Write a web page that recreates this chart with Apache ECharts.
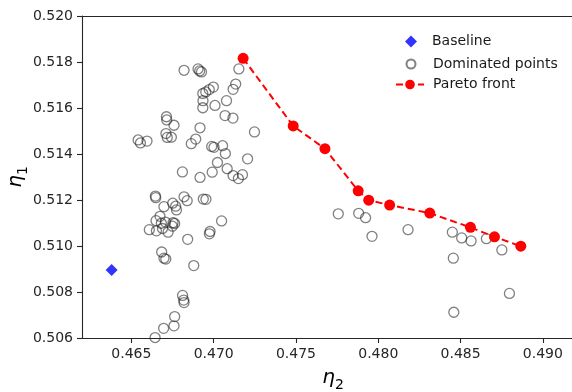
<!DOCTYPE html>
<html>
<head>
<meta charset="utf-8">
<script src="https://cdn.jsdelivr.net/npm/echarts@6/dist/echarts.min.js"></script>
<style>
html,body{margin:0;padding:0;background:#fff;overflow:hidden;}
#chart{width:600px;height:392px;}
</style>
</head>
<body>
<div id="chart"></div>
<script>
// ---- data ----
const baselineX = [0.46380];
const baselineY = [0.50896];

const paretoX = [0.47179, 0.47483, 0.47676, 0.47878, 0.47942, 0.48069, 0.48313, 0.48560, 0.48706, 0.48866];
const paretoY = [0.51816, 0.51522, 0.51423, 0.51240, 0.51199, 0.51178, 0.51143, 0.51081, 0.51040, 0.50999];

const dominatedX = [
  0.46820, 0.46905, 0.46915, 0.46926, 0.47153, 0.47134, 0.47118, 0.46998, 0.46973, 0.46952,
  0.46934, 0.46935, 0.46934, 0.47008, 0.47078, 0.47069, 0.47117, 0.47248, 0.46713, 0.46715,
  0.46759, 0.46917, 0.46710, 0.46718, 0.46743, 0.46541, 0.46555, 0.46595, 0.46891, 0.46864,
  0.46988, 0.47002, 0.47054, 0.47071, 0.47206, 0.46810, 0.46917, 0.46991, 0.47023, 0.47082,
  0.47118, 0.47150, 0.47175, 0.46646, 0.46648, 0.46698, 0.46751, 0.46769, 0.46774, 0.46820,
  0.46839, 0.46937, 0.46953, 0.46674, 0.46650, 0.46707, 0.46682, 0.46753, 0.46763, 0.46749,
  0.46609, 0.46652, 0.46689, 0.46723, 0.47048, 0.46978, 0.46974, 0.46842, 0.46684, 0.46698,
  0.46709, 0.46879, 0.46811, 0.46818, 0.46820, 0.46763, 0.46759, 0.46696, 0.46644,
  0.47757, 0.47881, 0.47923, 0.47962, 0.48181, 0.48450, 0.48507, 0.48564, 0.48657, 0.48751,
  0.48456, 0.48797, 0.48459
];
const dominatedY = [
  0.51764, 0.51770, 0.51761, 0.51757, 0.51770, 0.51704, 0.51681, 0.51691, 0.51680, 0.51670,
  0.51663, 0.51632, 0.51601, 0.51611, 0.51632, 0.51567, 0.51556, 0.51496, 0.51562, 0.51548,
  0.51525, 0.51514, 0.51489, 0.51472, 0.51473, 0.51461, 0.51448, 0.51456, 0.51465, 0.51445,
  0.51433, 0.51429, 0.51436, 0.51402, 0.51379, 0.51322, 0.51298, 0.51321, 0.51363, 0.51336,
  0.51306, 0.51293, 0.51310, 0.51217, 0.51210, 0.51171, 0.51186, 0.51173, 0.51157, 0.51214,
  0.51197, 0.51204, 0.51203, 0.51129, 0.51110, 0.51104, 0.51099, 0.51101, 0.51098, 0.51086,
  0.51071, 0.51066, 0.51076, 0.51060, 0.51109, 0.51063, 0.51053, 0.51029, 0.50974, 0.50947,
  0.50943, 0.50915, 0.50785, 0.50765, 0.50754, 0.50693, 0.50653, 0.50642, 0.50602,
  0.51140, 0.51142, 0.51123, 0.51042, 0.51071, 0.51060, 0.51035, 0.51022, 0.51032, 0.50983,
  0.50947, 0.50794, 0.50712
];

const xTicks = [0.465, 0.470, 0.475, 0.480, 0.485, 0.490];
const yTicks = [0.506, 0.508, 0.510, 0.512, 0.514, 0.516, 0.518, 0.520];

const zip = (a, b) => a.map((v, i) => [v, b[i]]);

const chart = echarts.init(document.getElementById('chart'), null, {renderer: 'canvas'});
const font = 'DejaVu Sans';
const axisColor = '#262626';
const legendText = {fontFamily: font, fontSize: 14, color: '#1a1a1a', lineHeight: 14};
const nameRich = {
  a: {fontFamily: font, fontStyle: 'italic', fontSize: 20, color: '#000', verticalAlign: 'bottom', lineHeight: 22},
  s: {fontFamily: font, fontSize: 14, color: '#000', verticalAlign: 'bottom', lineHeight: 16, padding: [0, 0, -4, 0]}
};

chart.setOption({
  animation: false,
  backgroundColor: '#ffffff',
  grid: {
    left: 82, top: 16, bottom: 54, right: 16,
    outerBoundsMode: 'none',
    containLabel: false
  },
  graphic: [{
    type: 'rect', silent: true, z: 100,
    shape: {x: 562, y: 17.2, width: 40, height: 320},
    style: {fill: '#ffffff'}
  }],
  legend: [
    {
      orient: 'vertical', left: 400, top: 29.5,
      itemWidth: 12, itemHeight: 12,
      textStyle: Object.assign({padding: [0, 0, 0, 10]}, legendText),
      data: [{name: 'Baseline', icon: 'diamond'}]
    },
    {
      orient: 'vertical', left: 400.5, top: 52,
      itemWidth: 9, itemHeight: 9,
      textStyle: Object.assign({padding: [0, 0, 0, 12.5]}, legendText),
      data: [{name: 'Dominated points', icon: 'circle'}]
    },
    {
      orient: 'vertical', left: 390, top: 72.5,
      itemWidth: 28, itemHeight: 12,
      textStyle: Object.assign({padding: [0, 0, 0, 4]}, legendText),
      data: ['Pareto front']
    }
  ],
  xAxis: [
    {
      type: 'value',
      min: 0.462, max: 0.4925,
      splitLine: {show: false},
      axisLine: {show: true, onZero: false, lineStyle: {color: axisColor, width: 1.1}},
      axisTick: {show: true, length: 5, lineStyle: {color: axisColor, width: 1.1}, customValues: xTicks},
      axisLabel: {
        fontFamily: font, fontSize: 14, color: axisColor, margin: 9,
        customValues: xTicks,
        formatter: v => v.toFixed(3)
      },
      name: '{a|η}{s|2}',
      nameLocation: 'middle',
      nameMoveOverlap: false,
      nameGap: 28,
      nameTextStyle: {rich: nameRich}
    },
    {
      type: 'value',
      position: 'top',
      min: 0.462, max: 0.4925,
      splitLine: {show: false},
      axisLine: {show: true, onZero: false, lineStyle: {color: axisColor, width: 1.1}},
      axisTick: {show: false},
      axisLabel: {show: false}
    }
  ],
  yAxis: {
    type: 'value',
    min: 0.506, max: 0.520,
    splitLine: {show: false},
    axisLine: {show: true, onZero: false, lineStyle: {color: axisColor, width: 1.1}},
    axisTick: {show: true, length: 5, lineStyle: {color: axisColor, width: 1.1}, customValues: yTicks},
    axisLabel: {
      fontFamily: font, fontSize: 14, color: axisColor, margin: 9,
      customValues: yTicks,
      formatter: v => v.toFixed(3)
    },
    name: '{a|η}{s|1}',
    nameLocation: 'middle',
    nameMoveOverlap: false,
    nameGap: 56,
    nameTextStyle: {rich: nameRich}
  },
  series: [
    {
      name: 'Baseline',
      type: 'scatter',
      symbol: 'diamond',
      symbolSize: 12,
      itemStyle: {color: '#0000ff'},
      data: zip(baselineX, baselineY),
      z: 3
    },
    {
      name: 'Dominated points',
      type: 'scatter',
      symbol: 'circle',
      symbolSize: 10,
      itemStyle: {color: 'rgba(255,255,255,0)', borderColor: 'rgba(30,30,30,0.7)', borderWidth: 1.3},
      data: zip(dominatedX, dominatedY),
      z: 2
    },
    {
      name: 'Pareto front',
      type: 'line',
      symbol: 'circle',
      symbolSize: 11,
      showSymbol: true,
      itemStyle: {color: '#ff0000'},
      lineStyle: {color: '#ff0000', width: 2, type: [7, 4]},
      data: zip(paretoX, paretoY),
      z: 4
    }
  ]
});
</script>
</body>
</html>
